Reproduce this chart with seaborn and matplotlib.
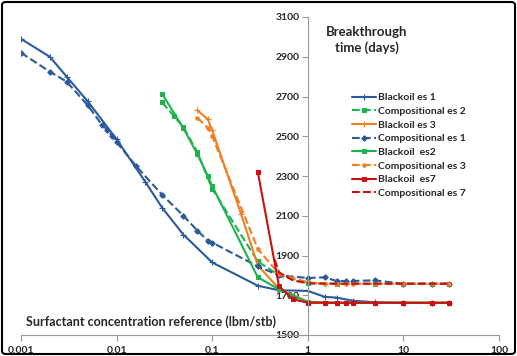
import matplotlib
matplotlib.use("Agg")
import matplotlib.pyplot as plt
import seaborn as sns
import pandas as pd
from matplotlib.patches import FancyBboxPatch
from matplotlib.ticker import FixedLocator, FixedFormatter, NullLocator

sns.set_style("white")
plt.rcParams['font.family'] = ['Lato', 'DejaVu Sans']
plt.rcParams['font.weight'] = 'bold'

# ---- data ----
bo1_x = [0.001, 0.002, 0.003, 0.005, 0.01, 0.02, 0.03, 0.05, 0.1, 0.3, 0.5, 1, 1.5, 2, 3, 5, 10, 20, 30]
bo1_y = [2990, 2900, 2800, 2675, 2485, 2270, 2140, 2005, 1865, 1748, 1725, 1722, 1692, 1688, 1672, 1665, 1662, 1662, 1662]

co2_x = [0.03, 0.04, 0.05, 0.07, 0.1, 0.3, 0.5, 1, 2, 5, 10, 20, 30]
co2_y = [2670, 2600, 2545, 2420, 2235, 1870, 1800, 1760, 1758, 1758, 1758, 1758, 1758]

bo3_x = [0.07, 0.09, 0.1, 0.2, 0.3, 0.5, 1, 2, 5, 10, 20, 30]
bo3_y = [2630, 2585, 2530, 2110, 1850, 1733, 1668, 1662, 1662, 1662, 1662, 1662]

co1_x = [0.001, 0.002, 0.003, 0.005, 0.007, 0.008, 0.009, 0.01, 0.016, 0.03, 0.05, 0.07, 0.09, 0.1, 0.3, 0.5, 1, 1.5, 2, 2.5, 3, 5, 10, 20, 30]
co1_y = [2920, 2825, 2775, 2655, 2558, 2533, 2500, 2470, 2350, 2205, 2100, 2025, 1975, 1965, 1845, 1800, 1787, 1790, 1772, 1772, 1772, 1775, 1758, 1758, 1758]

bo2_x = [0.03, 0.05, 0.07, 0.09, 0.1, 0.3, 0.5, 1, 2, 5, 10, 20, 30]
bo2_y = [2713, 2540, 2410, 2300, 2250, 1790, 1730, 1665, 1662, 1662, 1662, 1662, 1662]

co3_x = [0.07, 0.09, 0.1, 0.3, 0.5, 1, 1.5, 2, 2.5, 3, 5, 10, 20, 30]
co3_y = [2592, 2542, 2500, 1933, 1808, 1765, 1758, 1758, 1758, 1758, 1758, 1758, 1758, 1758]

bo7_x = [0.3, 0.5, 0.7, 1, 1.5, 2, 2.5, 3, 5, 10, 20, 30]
bo7_y = [2320, 1745, 1680, 1662, 1662, 1662, 1662, 1662, 1662, 1662, 1662, 1662]

co7_x = [0.45, 0.5, 0.7, 1, 2, 5, 10, 20, 30]
co7_y = [1880, 1815, 1775, 1760, 1758, 1758, 1758, 1758, 1758]

series_names = ["Blackoil es 1", "Compositional es 2", "Blackoil es 3", "Compositional es 1",
                "Blackoil  es2", "Compositional es 3", "Blackoil  es7", "Compositional es 7"]
series_x = [bo1_x, co2_x, bo3_x, co1_x, bo2_x, co3_x, bo7_x, co7_x]
series_y = [bo1_y, co2_y, bo3_y, co1_y, bo2_y, co3_y, bo7_y, co7_y]

x_ticks = [0.001, 0.01, 0.1, 1, 10, 100]
x_tick_labels = ["0.001", "0.01", "0.1", "1", "10", "100"]
y_ticks = [1500, 1700, 1900, 2100, 2300, 2500, 2700, 2900, 3100]

BLUE = "#2B5A9A"
GREEN = "#1FB24E"
ORANGE = "#F07F22"
RED = "#CC1010"
styles = [
    dict(color=BLUE, linestyle='-', marker='+', markersize=4, mew=0.8),
    dict(color=GREEN, linestyle='--', marker='s', markersize=2.5),
    dict(color=ORANGE, linestyle='-', marker='+', markersize=4, mew=0.8),
    dict(color=BLUE, linestyle='--', marker='D', markersize=2.8),
    dict(color=GREEN, linestyle='-', marker='s', markersize=2.5),
    dict(color=ORANGE, linestyle='--', marker='o', markersize=2.5),
    dict(color=RED, linestyle='-', marker='s', markersize=3),
    dict(color=RED, linestyle='--', marker=None),
]

fig = plt.figure(figsize=(5.17, 3.56), dpi=100)
ax = fig.add_axes([21/517, 21/356, 478/517, 318/356])

for name, xs, ys, st in zip(series_names, series_x, series_y, styles):
    df = pd.DataFrame({"x": xs, "y": ys})
    sns.lineplot(data=df, x="x", y="y", ax=ax, label=name, linewidth=1.5,
                 markeredgecolor=st['color'], **st)

ax.set_xscale('log')
ax.set_xlim(0.001, 100)
ax.set_ylim(1500, 3100)
ax.xaxis.set_major_locator(FixedLocator(x_ticks))
ax.xaxis.set_major_formatter(FixedFormatter(x_tick_labels))
ax.xaxis.set_minor_locator(NullLocator())
ax.set_yticks(y_ticks)
ax.set_xlabel("")
ax.set_ylabel("")

for s in ['top', 'right']:
    ax.spines[s].set_visible(False)
ax.spines['left'].set_position(('data', 1))
for s in ['left', 'bottom']:
    ax.spines[s].set_color('#9A9A9A')
    ax.spines[s].set_linewidth(0.8)
ax.tick_params(axis='both', which='major', length=4, width=0.8, color='#9A9A9A',
               direction='out', labelsize=7.5, pad=2)
ax.tick_params(axis='x', pad=4)
ax.tick_params(axis='both', bottom=True, left=True)
for lab in ax.get_xticklabels() + ax.get_yticklabels():
    lab.set_fontweight('bold')

leg = ax.legend(loc='upper left', bbox_to_anchor=(352/517, 1 - 93/356),
                bbox_transform=fig.transFigure, frameon=False, fontsize=7.5,
                handlelength=2.3, handletextpad=0.2, labelspacing=0.42, borderpad=0,
                borderaxespad=0)
for t in leg.get_texts():
    t.set_fontweight('bold')

fig.text(367/517, 1 - 40/356, "Breakthrough\ntime (days)", ha='center', va='center',
         fontsize=9.5, fontweight='bold', linespacing=1.25)
fig.text(26/517, 1 - 322/356, "Surfactant concentration reference (lbm/stb)",
         ha='left', va='center', fontsize=9, fontweight='bold')

border = FancyBboxPatch((2/517, 2/356), 513/517, 352/356,
                        boxstyle="round,pad=0,rounding_size=0.008",
                        transform=fig.transFigure, fill=False, edgecolor='black',
                        linewidth=1.5)
fig.patches.append(border)

fig.savefig("out.png", dpi=100)
